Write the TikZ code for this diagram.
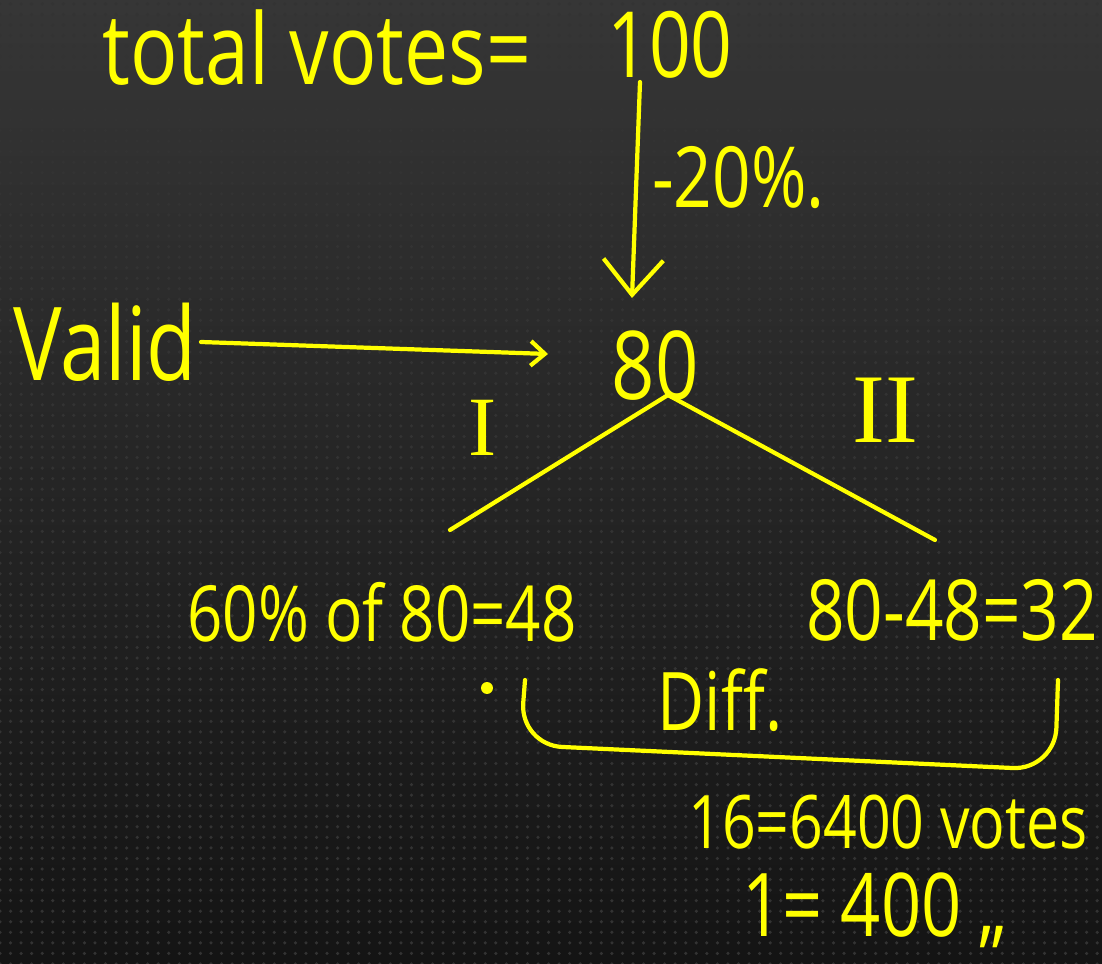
\documentclass[tikz,border=0pt]{standalone}
\usepackage{fontspec}
\setmainfont{Open Sans}[FakeStretch=0.8]
\newfontfamily\numeralfont{Liberation Serif}
\usetikzlibrary{arrows.meta, patterns, positioning}

\definecolor{ink}{HTML}{FFFF00}
\definecolor{boardtop}{HTML}{363636}
\definecolor{boardbot}{HTML}{141414}

\begin{document}
\begin{tikzpicture}[x=0.01cm, y=-0.01cm]
% How the pen strokes look
\tikzstyle{hand} = [text=ink, inner sep=1pt]
\tikzstyle{stroke} = [draw=ink, line width=1.2pt, line cap=round, line join=round]
\tikzstyle{big_arrow} = [stroke, -{Straight Barb[length=10pt, width=17pt, line width=1.2pt]}]
\tikzstyle{arrow} = [stroke, -{Straight Barb[length=4pt, width=7pt, line width=1.2pt]}]
% Board
\useasboundingbox (0,0) rectangle (1102,964);
\shade[top color=boardtop, bottom color=boardbot] (0,0) rectangle (1102,964);
\fill[pattern=dots, pattern color=black!80] (0,0) rectangle (1102,964);

% Start initiating nodes
\node (total) [hand, anchor=west, font=\fontsize{28}{32}\selectfont] at (98,48) {total votes=};
\node (hundred) [hand, font=\fontsize{26}{30}\selectfont] at (670,45) {100};
\node (cut) [hand, anchor=west, font=\fontsize{24}{28}\selectfont] at (648,178) {-20\%.};
\node (eighty) [hand, font=\fontsize{27}{30}\selectfont] at (655,366) {80};
\node (valid) [hand, font=\fontsize{29}{32}\selectfont] at (105,342) {Valid};
\node (one) [hand, font=\numeralfont\fontsize{24}{28}\selectfont] at (483,428) {I};
\node (two) [hand, font=\numeralfont\fontsize{28}{32}\selectfont] at (885,410) {II};
\node (share) [hand, font=\fontsize{22}{26}\selectfont] at (382,612) {60\% of 80=48};
\node (rest) [hand, font=\fontsize{24}{28}\selectfont] at (952,610) {80-48=32};
\node (diff) [hand, font=\fontsize{23}{26}\selectfont] at (720,700) {Diff.};
\node (sixteen) [hand, anchor=west, font=\fontsize{21}{25}\selectfont] at (684,822) {16=6400 votes};
\node (unit) [hand, anchor=west, font=\fontsize{25}{28}\selectfont] at (738,910) {1= 400 ,,};

\coordinate (drop_top) at (640,82);
\coordinate (drop_end) at (632,298);
\coordinate (valid_end) at (548,354);
\coordinate (apex) at (668,395);
\coordinate (left_end) at (450,530);
\coordinate (right_end) at (935,540);
\coordinate (brace_l) at (525,680);
\coordinate (brace_r) at (1058,680);
\node (speck) [circle, fill=ink, inner sep=1.2pt] at (487,688) {};

% Draw arrows for connection
\draw [big_arrow] (drop_top) -- (drop_end);
\draw [arrow] (valid.east) -- (valid_end);
\draw [stroke] (apex) -- (left_end);
\draw [stroke] (apex) -- (right_end);
\draw [stroke, rounded corners=12pt] (brace_l) -- (520,745) -- (1055,770) -- (brace_r);
\end{tikzpicture}
\end{document}
